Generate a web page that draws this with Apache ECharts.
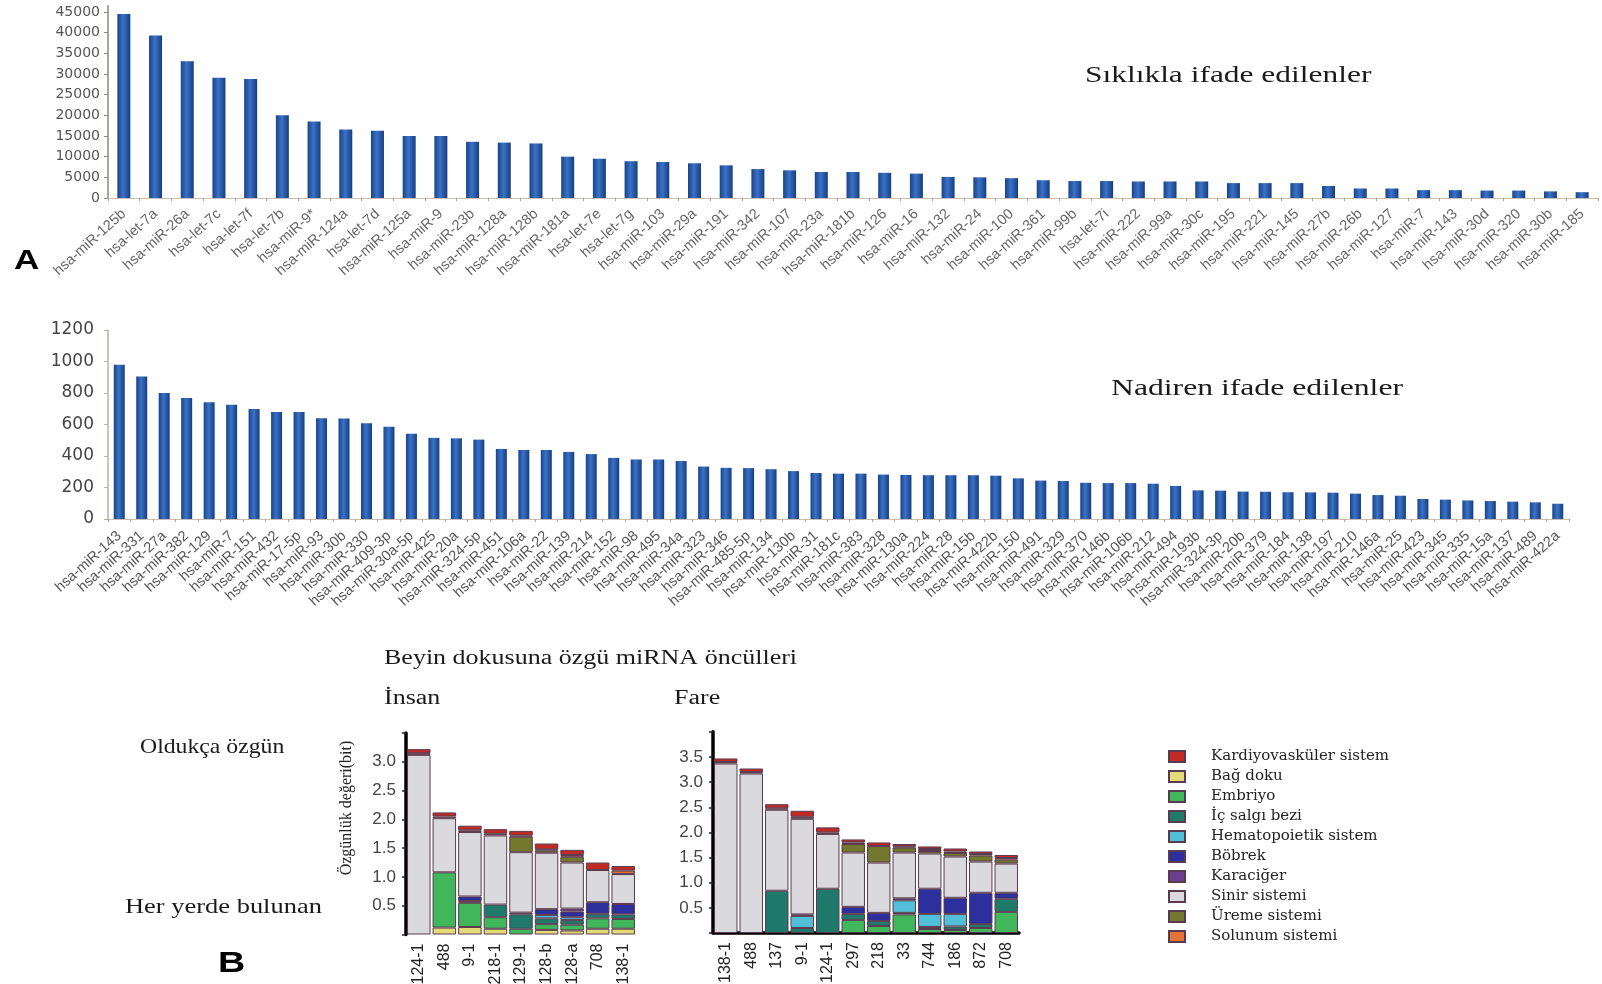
<!DOCTYPE html>
<html>
<head>
<meta charset="utf-8">
<script src="https://cdn.jsdelivr.net/npm/echarts@6/dist/echarts.min.js"></script>
<style>
  html, body { margin: 0; padding: 0; background: #fff; }
  #chart { width: 1602px; height: 984px; }
</style>
</head>
<body>
<div id="chart"></div>
<script>
// ---------- A: frequently expressed miRNAs ----------
const frequentNames = [
  'hsa-miR-125b','hsa-let-7a','hsa-miR-26a','hsa-let-7c','hsa-let-7f','hsa-let-7b','hsa-miR-9*',
  'hsa-miR-124a','hsa-let-7d','hsa-miR-125a','hsa-miR-9','hsa-miR-23b','hsa-miR-128a','hsa-miR-128b',
  'hsa-miR-181a','hsa-let-7e','hsa-let-7g','hsa-miR-103','hsa-miR-29a','hsa-miR-191','hsa-miR-342',
  'hsa-miR-107','hsa-miR-23a','hsa-miR-181b','hsa-miR-126','hsa-miR-16','hsa-miR-132','hsa-miR-24',
  'hsa-miR-100','hsa-miR-361','hsa-miR-99b','hsa-let-7i','hsa-miR-222','hsa-miR-99a','hsa-miR-30c',
  'hsa-miR-195','hsa-miR-221','hsa-miR-145','hsa-miR-27b','hsa-miR-26b','hsa-miR-127','hsa-miR-7',
  'hsa-miR-143','hsa-miR-30d','hsa-miR-320','hsa-miR-30b','hsa-miR-185'
];
const frequentValues = [
  44500, 39300, 33100, 29100, 28800, 20000, 18500,
  16600, 16300, 15000, 15000, 13600, 13400, 13200,
  10000, 9500, 8900, 8700, 8400, 7900, 7000,
  6700, 6300, 6300, 6100, 5900, 5100, 5000,
  4800, 4300, 4100, 4100, 4000, 4000, 4000,
  3600, 3600, 3600, 2900, 2300, 2300, 1900,
  1900, 1800, 1800, 1600, 1400
];

// ---------- A: rarely expressed miRNAs ----------
const rareNames = [
  'hsa-miR-143','hsa-miR-331','hsa-miR-27a','hsa-miR-382','hsa-miR-129','hsa-miR-7','hsa-miR-151',
  'hsa-miR-432','hsa-miR-17-5p','hsa-miR-93','hsa-miR-30b','hsa-miR-330','hsa-miR-409-3p','hsa-miR-30a-5p',
  'hsa-miR-425','hsa-miR-20a','hsa-miR-324-5p','hsa-miR-451','hsa-miR-106a','hsa-miR-22','hsa-miR-139',
  'hsa-miR-214','hsa-miR-152','hsa-miR-98','hsa-miR-495','hsa-miR-34a','hsa-miR-323','hsa-miR-346',
  'hsa-miR-485-5p','hsa-miR-134','hsa-miR-130b','hsa-miR-31','hsa-miR-181c','hsa-miR-383','hsa-miR-328',
  'hsa-miR-130a','hsa-miR-224','hsa-miR-28','hsa-miR-15b','hsa-miR-422b','hsa-miR-150','hsa-miR-491',
  'hsa-miR-329','hsa-miR-370','hsa-miR-146b','hsa-miR-106b','hsa-miR-212','hsa-miR-494','hsa-miR-193b',
  'hsa-miR-324-3p','hsa-miR-20b','hsa-miR-379','hsa-miR-184','hsa-miR-138','hsa-miR-197','hsa-miR-210',
  'hsa-miR-146a','hsa-miR-25','hsa-miR-423','hsa-miR-345','hsa-miR-335','hsa-miR-15a','hsa-miR-137',
  'hsa-miR-489','hsa-miR-422a'
];
const rareValues = [
  980, 905, 800, 768, 742, 725, 698,
  680, 680, 640, 638, 608, 586, 542,
  515, 512, 504, 445, 438, 438, 426,
  412, 388, 378, 378, 368, 333, 325,
  323, 316, 304, 292, 288, 288, 282,
  280, 278, 278, 278, 275, 258, 244,
  241, 230, 228, 228, 224, 210, 182,
  180, 174, 173, 170, 169, 167, 161,
  152, 148, 127, 123, 118, 114, 110,
  106, 97
];

// ---------- B: brain-specific precursors, specificity (bit) by tissue ----------
const humanCats = ['124-1','488','9-1','218-1','129-1','128-b','128-a','708','138-1'];
const mouseCats = ['138-1','488','137','9-1','124-1','297','218','33','744','186','872','708'];

const humanBagDoku      = [0, 0.12, 0.13, 0.10, 0, 0.08, 0.07, 0.10, 0.10];
const humanEmbriyo      = [0, 0.96, 0.42, 0.20, 0.10, 0.10, 0.10, 0.18, 0.17];
const humanIcSalgi      = [0, 0, 0.03, 0.22, 0.25, 0.10, 0.08, 0.08, 0.08];
const humanHemato       = [0, 0, 0, 0, 0, 0.06, 0.05, 0, 0];
const humanBobrek       = [0, 0, 0.08, 0, 0.03, 0.10, 0.10, 0.20, 0.18];
const humanKaraciger    = [0, 0, 0, 0, 0, 0, 0.05, 0, 0];
const humanSinir        = [3.12, 0.94, 1.12, 1.20, 1.05, 0.98, 0.80, 0.56, 0.52];
const humanUreme        = [0, 0, 0, 0, 0.27, 0.04, 0.10, 0, 0];
const humanSolunum      = [0.03, 0.03, 0.03, 0.03, 0.02, 0.02, 0.03, 0, 0.06];
const humanKardiyo      = [0.07, 0.07, 0.08, 0.08, 0.08, 0.10, 0.09, 0.13, 0.08];

const mouseBagDoku      = [0, 0, 0, 0, 0, 0, 0, 0, 0, 0, 0, 0];
const mouseEmbriyo      = [0, 0, 0, 0, 0, 0.26, 0.14, 0.37, 0.08, 0.06, 0.10, 0.42];
const mouseIcSalgi      = [0, 0, 0.84, 0.10, 0.88, 0.12, 0.10, 0.03, 0.04, 0.07, 0.08, 0.26];
const mouseHemato       = [0, 0, 0, 0.24, 0, 0, 0, 0.25, 0.26, 0.25, 0, 0];
const mouseBobrek       = [0, 0, 0, 0.03, 0, 0.14, 0.16, 0.04, 0.50, 0.32, 0.62, 0.12];
const mouseKaraciger    = [0, 0, 0, 0, 0, 0, 0, 0, 0, 0, 0, 0];
const mouseSinir        = [3.37, 3.17, 1.61, 1.90, 1.09, 1.08, 1.00, 0.91, 0.70, 0.82, 0.62, 0.58];
const mouseUreme        = [0, 0, 0, 0.04, 0, 0.17, 0.33, 0.10, 0.05, 0.07, 0.12, 0.08];
const mouseSolunum      = [0.03, 0.03, 0.03, 0, 0.03, 0.03, 0, 0.02, 0.04, 0.03, 0.03, 0.03];
const mouseKardiyo      = [0.07, 0.07, 0.08, 0.12, 0.10, 0.06, 0.07, 0.05, 0.05, 0.06, 0.05, 0.06];

// legend order
const legendNames = [
  'Kardiyovasküler sistem','Bağ doku','Embriyo','İç salgı bezi','Hematopoietik sistem',
  'Böbrek','Karaciğer','Sinir sistemi','Üreme sistemi','Solunum sistemi'
];

// stacking order, bottom to top
const tissueStack = [
  { name: 'Bağ doku',               color: '#e4da78', human: humanBagDoku,   mouse: mouseBagDoku },
  { name: 'Embriyo',                color: '#3fb75a', human: humanEmbriyo,   mouse: mouseEmbriyo },
  { name: 'İç salgı bezi',          color: '#1f7a6b', human: humanIcSalgi,   mouse: mouseIcSalgi },
  { name: 'Hematopoietik sistem',   color: '#52bfd8', human: humanHemato,    mouse: mouseHemato },
  { name: 'Böbrek',                 color: '#2c2f9c', human: humanBobrek,    mouse: mouseBobrek },
  { name: 'Karaciğer',              color: '#6c3f90', human: humanKaraciger, mouse: mouseKaraciger },
  { name: 'Sinir sistemi',          color: '#d9d9de', human: humanSinir,     mouse: mouseSinir },
  { name: 'Üreme sistemi',          color: '#74772e', human: humanUreme,     mouse: mouseUreme },
  { name: 'Solunum sistemi',        color: '#e2743a', human: humanSolunum,   mouse: mouseSolunum },
  { name: 'Kardiyovasküler sistem', color: '#c22a26', human: humanKardiyo,   mouse: mouseKardiyo }
];

const chart = echarts.init(document.getElementById('chart'), null, { renderer: 'canvas' });

const blueBar = new echarts.graphic.LinearGradient(0, 0, 1, 0, [
  { offset: 0, color: '#19438a' },
  { offset: 0.45, color: '#3b72c6' },
  { offset: 1, color: '#163d80' }
]);

const sans = '"Liberation Sans", Arial, sans-serif';
const serif = '"Liberation Serif", "Times New Roman", serif';
const plainNumber = function (v) { return String(v); };

function catAxis(gridIndex, names, extra) {
  return Object.assign({
    type: 'category', gridIndex: gridIndex, data: names, boundaryGap: true
  }, extra);
}

const series = [
  {
    type: 'bar', xAxisIndex: 0, yAxisIndex: 0, data: frequentValues,
    barWidth: 13, itemStyle: { color: blueBar }
  },
  {
    type: 'bar', xAxisIndex: 1, yAxisIndex: 1, data: rareValues,
    barWidth: 11, itemStyle: { color: blueBar }
  }
];

tissueStack.forEach(function (t) {
  series.push({
    type: 'bar', name: t.name, xAxisIndex: 2, yAxisIndex: 2, stack: 'insan',
    barCategoryGap: '8%',
    data: t.human.map(function (v) { return v > 0 ? v : '-'; }),
    itemStyle: { color: t.color, borderColor: '#5a3a4e', borderWidth: 1 }
  });
});
tissueStack.forEach(function (t) {
  series.push({
    type: 'bar', name: t.name, xAxisIndex: 3, yAxisIndex: 3, stack: 'fare',
    barCategoryGap: '8%',
    data: t.mouse.map(function (v) { return v > 0 ? v : '-'; }),
    itemStyle: { color: t.color, borderColor: '#5a3a4e', borderWidth: 1 }
  });
});

function label(text, x, y, size, scaleX, extra) {
  return Object.assign({
    type: 'text', x: x, y: y, scaleX: scaleX || 1, originX: 0, originY: 0,
    style: {
      text: text, x: 0, y: 0, font: size + 'px ' + serif, fill: '#1a1a1a',
      textAlign: 'left', textVerticalAlign: 'middle'
    }
  }, extra || {});
}

const option = {
  backgroundColor: '#ffffff',
  animation: false,
  grid: [
    { left: 108, right: 4, top: 5.8, height: 192.2, outerBoundsMode: 'none' },
    { left: 108, right: 33, top: 330, height: 189, outerBoundsMode: 'none' },
    { left: 406, right: 1602 - 636, top: 733, height: 201.5, outerBoundsMode: 'none' },
    { left: 713, right: 1602 - 1019, top: 731.8, height: 201.2, outerBoundsMode: 'none' }
  ],
  xAxis: [
    catAxis(0, frequentNames, {
      axisLine: { lineStyle: { color: '#cbbfb4', width: 1.2 } },
      axisTick: { show: true, length: 3, lineStyle: { color: '#a9a09a' } },
      axisLabel: { interval: 0, rotate: 42, margin: 14, fontFamily: sans, fontSize: 14.5, color: '#666' }
    }),
    catAxis(1, rareNames, {
      axisLine: { lineStyle: { color: '#cbbfb4', width: 1.2 } },
      axisTick: { show: true, length: 3, lineStyle: { color: '#a9a09a' } },
      axisLabel: { interval: 0, rotate: 42, margin: 15, fontFamily: sans, fontSize: 14.5, color: '#555' }
    }),
    catAxis(2, humanCats, {
      axisLine: { show: false },
      axisTick: { show: false },
      axisLabel: { interval: 0, rotate: 90, margin: 9, fontFamily: sans, fontSize: 16, color: '#222' }
    }),
    catAxis(3, mouseCats, {
      axisLine: { show: true, lineStyle: { color: '#000', width: 3.5 } },
      axisTick: { show: false },
      axisLabel: { interval: 0, rotate: 90, margin: 9, fontFamily: sans, fontSize: 16, color: '#222' }
    })
  ],
  yAxis: [
    {
      type: 'value', gridIndex: 0, min: 0, max: 46500, interval: 5000,
      splitLine: { show: false },
      axisLine: { show: true, lineStyle: { color: '#8f8780', width: 1.5 } },
      axisTick: { show: true, length: 4, lineStyle: { color: '#8f8780' } },
      axisLabel: { showMaxLabel: false, margin: 8, fontFamily: '"DejaVu Sans", sans-serif', fontSize: 14, color: '#555', formatter: plainNumber }
    },
    {
      type: 'value', gridIndex: 1, min: 0, max: 1200, interval: 200,
      splitLine: { show: false },
      axisLine: { show: true, lineStyle: { color: '#b8b0aa', width: 1.5 } },
      axisTick: { show: true, length: 4, lineStyle: { color: '#b8b0aa' } },
      axisLabel: { margin: 14, fontFamily: '"DejaVu Sans", sans-serif', fontSize: 17, color: '#444', formatter: plainNumber }
    },
    {
      type: 'value', gridIndex: 2, min: 0, max: 3.5, interval: 0.5,
      splitLine: { show: false },
      axisLine: { show: true, lineStyle: { color: '#000', width: 3.5 } },
      axisTick: { show: true, length: 4, lineStyle: { color: '#222', width: 1.5 } },
      axisLabel: {
        margin: 10, fontFamily: sans, fontSize: 17, color: '#444',
        formatter: function (v) { return (v > 0 && v < 3.25) ? v.toFixed(1) : ''; }
      }
    },
    {
      type: 'value', gridIndex: 3, min: 0, max: 4.0, interval: 0.5,
      splitLine: { show: false },
      axisLine: { show: true, lineStyle: { color: '#000', width: 3.5 } },
      axisTick: { show: true, length: 4, lineStyle: { color: '#222', width: 1.5 } },
      axisLabel: {
        margin: 10, fontFamily: sans, fontSize: 17, color: '#444',
        formatter: function (v) { return (v > 0 && v < 3.75) ? v.toFixed(1) : ''; }
      }
    }
  ],
  legend: {
    data: legendNames,
    orient: 'vertical',
    left: 1163, top: 744,
    icon: 'rect',
    itemWidth: 16, itemHeight: 11, itemGap: 5,
    selectedMode: false,
    textStyle: {
      fontFamily: '"DejaVu Serif", serif', fontSize: 15, color: '#222',
      lineHeight: 14, padding: [0, 0, 0, 21]
    }
  },
  graphic: [
    label('Sıklıkla ifade edilenler', 1085, 76, 24, 1.31),
    label('Nadiren ifade edilenler', 1111, 389, 24, 1.32),
    label('Beyin dokusuna özgü miRNA öncülleri', 384, 659, 20, 1.3),
    label('İnsan', 384, 699, 20, 1.3),
    label('Fare', 674, 699, 20, 1.3),
    label('Oldukça özgün', 140, 747, 21, 1.13),
    label('Her yerde bulunan', 125, 907, 21, 1.26),
    {
      type: 'text', x: 347, y: 808, rotation: Math.PI / 2,
      style: {
        text: 'Özgünlük değeri(bit)', x: 0, y: 0, font: '16px ' + serif, fill: '#222',
        textAlign: 'center', textVerticalAlign: 'middle'
      }
    },
    {
      type: 'text', x: 14, y: 261, scaleX: 1.25, originX: 0, originY: 0,
      style: { text: 'A', x: 0, y: 0, font: 'bold 28px ' + sans, fill: '#000', textAlign: 'left', textVerticalAlign: 'middle' }
    },
    {
      type: 'text', x: 218, y: 964, scaleX: 1.3, originX: 0, originY: 0,
      style: { text: 'B', x: 0, y: 0, font: 'bold 29px ' + sans, fill: '#000', textAlign: 'left', textVerticalAlign: 'middle' }
    }
  ],
  series: series
};

chart.setOption(option);
</script>
</body>
</html>
